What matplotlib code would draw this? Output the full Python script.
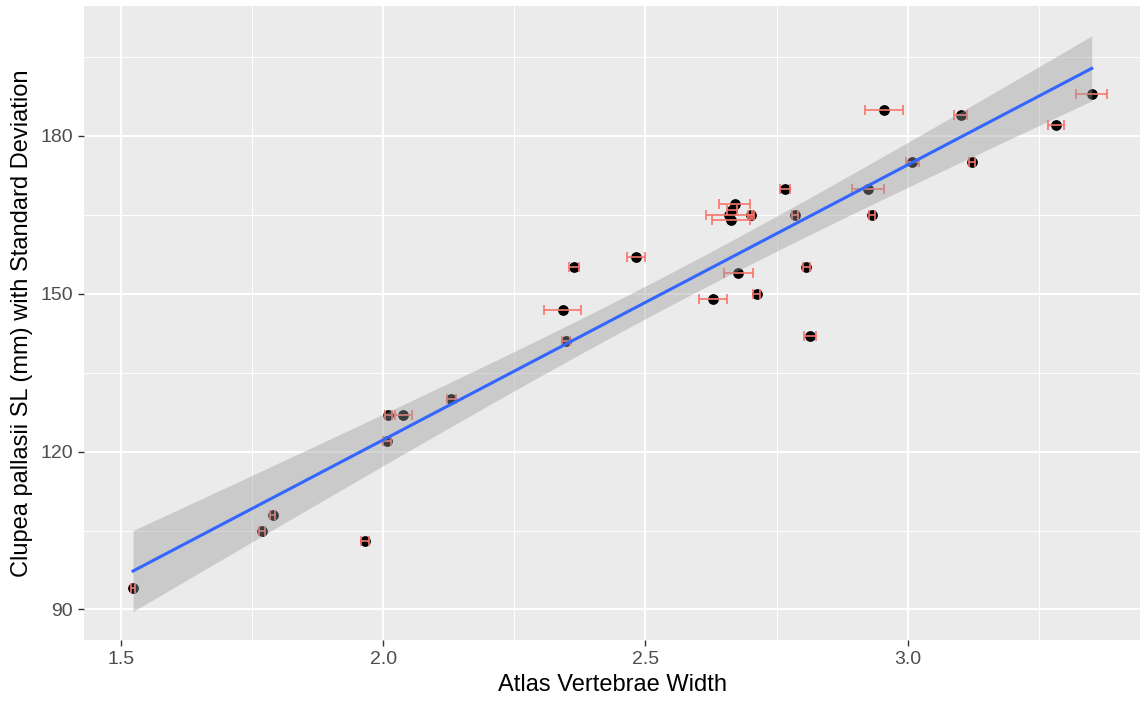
import matplotlib
matplotlib.use("Agg")
import matplotlib.pyplot as plt
import numpy as np

plt.rcParams['font.family'] = ['Liberation Sans', 'DejaVu Sans']

# atlas width (mean), SL in mm, sd of width
width = [1.523, 1.769, 1.789, 1.965, 2.010, 2.038, 2.007, 2.130, 2.342, 2.348,
         2.364, 2.482, 2.629, 2.677, 2.712, 2.670, 2.665, 2.660, 2.663, 2.701,
         2.766, 2.785, 2.807, 2.814, 2.955, 2.924, 2.932, 3.009, 3.101, 3.123,
         3.283, 3.351]
sl = [94, 105, 108, 103, 127, 127, 122, 130, 147, 141,
      155, 157, 149, 154, 150, 167, 166, 165, 164, 165,
      170, 165, 155, 142, 185, 170, 165, 175, 184, 175,
      182, 188]
width_sd = [0.004, 0.006, 0.005, 0.008, 0.006, 0.016, 0.008, 0.008, 0.036, 0.008,
            0.010, 0.017, 0.027, 0.028, 0.006, 0.030, 0.010, 0.044, 0.037, 0.006,
            0.010, 0.006, 0.006, 0.012, 0.036, 0.031, 0.006, 0.013, 0.013, 0.006,
            0.016, 0.030]

x = np.array(width)
y = np.array(sl)
xsd = np.array(width_sd)

# linear fit + 95% band, like geom_smooth(method='lm')
n = len(x)
b1, b0 = np.polyfit(x, y, 1)
xs = np.linspace(x.min(), x.max(), 80)
fit = b0 + b1*xs
resid = y - (b0 + b1*x)
s = np.sqrt(np.sum(resid**2)/(n-2))
sxx = np.sum((x - x.mean())**2)
se = s*np.sqrt(1/n + (xs - x.mean())**2/sxx)
tq = 2.042  # t(0.975, df=30)

fig = plt.figure(figsize=(11.47, 7.08), dpi=100)
ax = fig.add_axes([84/1147, 68/708, 1056/1147, 634/708])
ax.set_facecolor('#EBEBEB')

ax.scatter(x, y, s=45, color='black', zorder=3)
ax.errorbar(x, y, xerr=xsd, fmt='none', ecolor='#F8766D', elinewidth=1.2,
            capsize=3.5, capthick=1.2, zorder=4)
ax.fill_between(xs, fit - tq*se, fit + tq*se, color='#999999', alpha=0.4,
                linewidth=0, zorder=5)
ax.plot(xs, fit, color='#3366FF', linewidth=2.2, zorder=6)

ax.set_xlim(1.4295, 3.443)
ax.set_ylim(84.2, 204.7)
ax.set_xticks([1.5, 2.0, 2.5, 3.0])
ax.set_xticklabels(['1.5', '2.0', '2.5', '3.0'])
ax.set_yticks([90, 120, 150, 180])
ax.set_xticks([1.75, 2.25, 2.75, 3.25], minor=True)
ax.set_yticks([105, 135, 165, 195], minor=True)
ax.grid(which='major', color='white', linewidth=1.4)
ax.grid(which='minor', color='white', linewidth=0.7)
ax.set_axisbelow(True)
for sp in ax.spines.values():
    sp.set_visible(False)
ax.tick_params(which='major', length=4, color='#333333', labelcolor='#4D4D4D',
               labelsize=14, width=1, pad=4)
ax.tick_params(which='minor', length=0)

ax.set_xlabel('Atlas Vertebrae Width', fontsize=17, color='black', labelpad=4)
ax.set_ylabel('Clupea pallasii SL (mm) with Standard Deviation', fontsize=17,
              color='black', labelpad=5)

fig.savefig('out.png', dpi=100)
